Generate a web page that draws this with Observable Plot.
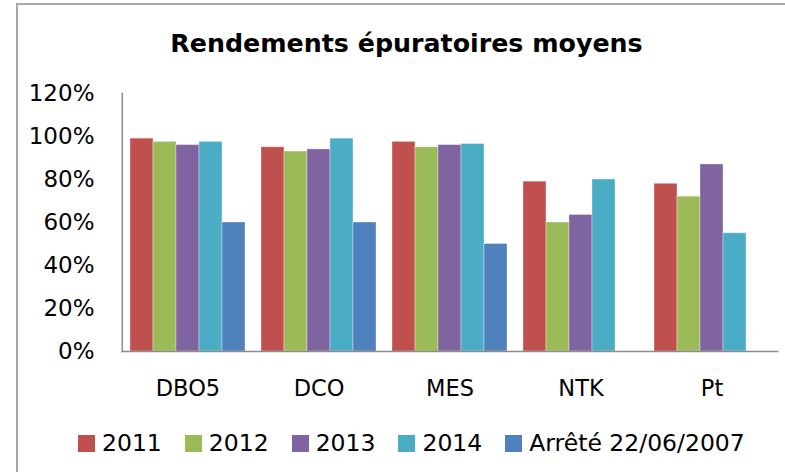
<!DOCTYPE html>
<html>
<head>
<meta charset="utf-8">
<script src="https://cdn.jsdelivr.net/npm/d3@7"></script>
<script src="https://cdn.jsdelivr.net/npm/@observablehq/plot@0.6"></script>
<style>
  html, body { margin: 0; padding: 0; background: #fff; }
  #wrap { position: relative; width: 785px; height: 472px; overflow: hidden; font-family: "DejaVu Sans", sans-serif; color: #000; }
  #frame { position: absolute; left: 16px; top: 3px; right: -10px; bottom: -10px; border-left: 2px solid #a6a6a6; border-top: 2px solid #a6a6a6; pointer-events: none; }
  #title { box-sizing: border-box; height: 70px; padding-top: 29px; padding-left: 28px; text-align: center; font-weight: bold; font-size: 25.3px; line-height: 30px; }
  #legend { display: flex; align-items: center; padding-left: 78px; margin-top: 20px; height: 26px; font-size: 23.5px; line-height: 26px; }
  .item { display: flex; align-items: center; margin-right: 23px; }
  .sw { width: 17px; height: 17px; margin-right: 7px; }
  svg { display: block; }
</style>
</head>
<body>
<div id="wrap">
  <div id="frame"></div>
  <div id="title">Rendements épuratoires moyens</div>
  <div id="chart"></div>
  <div id="legend"></div>
</div>
<script>
const categories = ["DBO5", "DCO", "MES", "NTK", "Pt"];
const series = ["2011", "2012", "2013", "2014", "Arrêté 22/06/2007"];
const colors = ["#C0504D", "#9BBB59", "#8064A2", "#4BACC6", "#4F81BD"];
const v2011 = [99, 95, 97.5, 79, 78];
const v2012 = [97.5, 93, 95, 60, 72];
const v2013 = [96, 94, 96, 63.5, 87];
const v2014 = [97.5, 99, 96.5, 80, 55];
const vArrete = [60, 60, 50, null, null];
const yTicks = [0, 20, 40, 60, 80, 100, 120];

const seriesValues = [v2011, v2012, v2013, v2014, vArrete];
const data = [];
categories.forEach((c, i) => {
  series.forEach((s, j) => {
    const v = seriesValues[j][i];
    if (v != null) data.push({category: c, series: s, value: v});
  });
});

const outer = 8.2;
const chart = Plot.plot({
  width: 785,
  height: 340,
  marginLeft: 121,
  marginRight: 7,
  marginTop: 23,
  marginBottom: 59,
  style: {fontFamily: "DejaVu Sans, sans-serif", color: "#000", background: "transparent"},
  fx: {domain: categories, paddingInner: 0.125, paddingOuter: 0.0625, label: null},
  x: {domain: series, padding: 0, axis: null},
  y: {domain: [0, 120], label: null},
  color: {domain: series, range: colors},
  marks: [
    Plot.barY(data, {fx: "category", x: "series", y: "value", fill: "series", stroke: "#ffffff", strokeOpacity: 0.35, strokeWidth: 1}),
    Plot.frame({anchor: "bottom", facet: "super", stroke: "#8c8c8c", strokeWidth: 1.5, insetLeft: -outer, insetRight: -outer}),
    Plot.frame({anchor: "left", facet: "super", stroke: "#8c8c8c", strokeWidth: 1.5, insetLeft: -outer, insetRight: -outer}),
    Plot.axisY({ticks: yTicks, tickSize: 0, tickPadding: 36, fontSize: 23, tickFormat: d => d + "%", label: null}),
    Plot.axisFx({anchor: "bottom", tickSize: 0, tickPadding: 29, fontSize: 22.5, label: null})
  ]
});
document.getElementById("chart").appendChild(chart);

const legend = document.getElementById("legend");
series.forEach((s, j) => {
  const it = document.createElement("div");
  it.className = "item";
  const sw = document.createElement("div");
  sw.className = "sw";
  sw.style.background = colors[j];
  const t = document.createElement("span");
  t.textContent = s;
  it.appendChild(sw);
  it.appendChild(t);
  legend.appendChild(it);
});
</script>
</body>
</html>
